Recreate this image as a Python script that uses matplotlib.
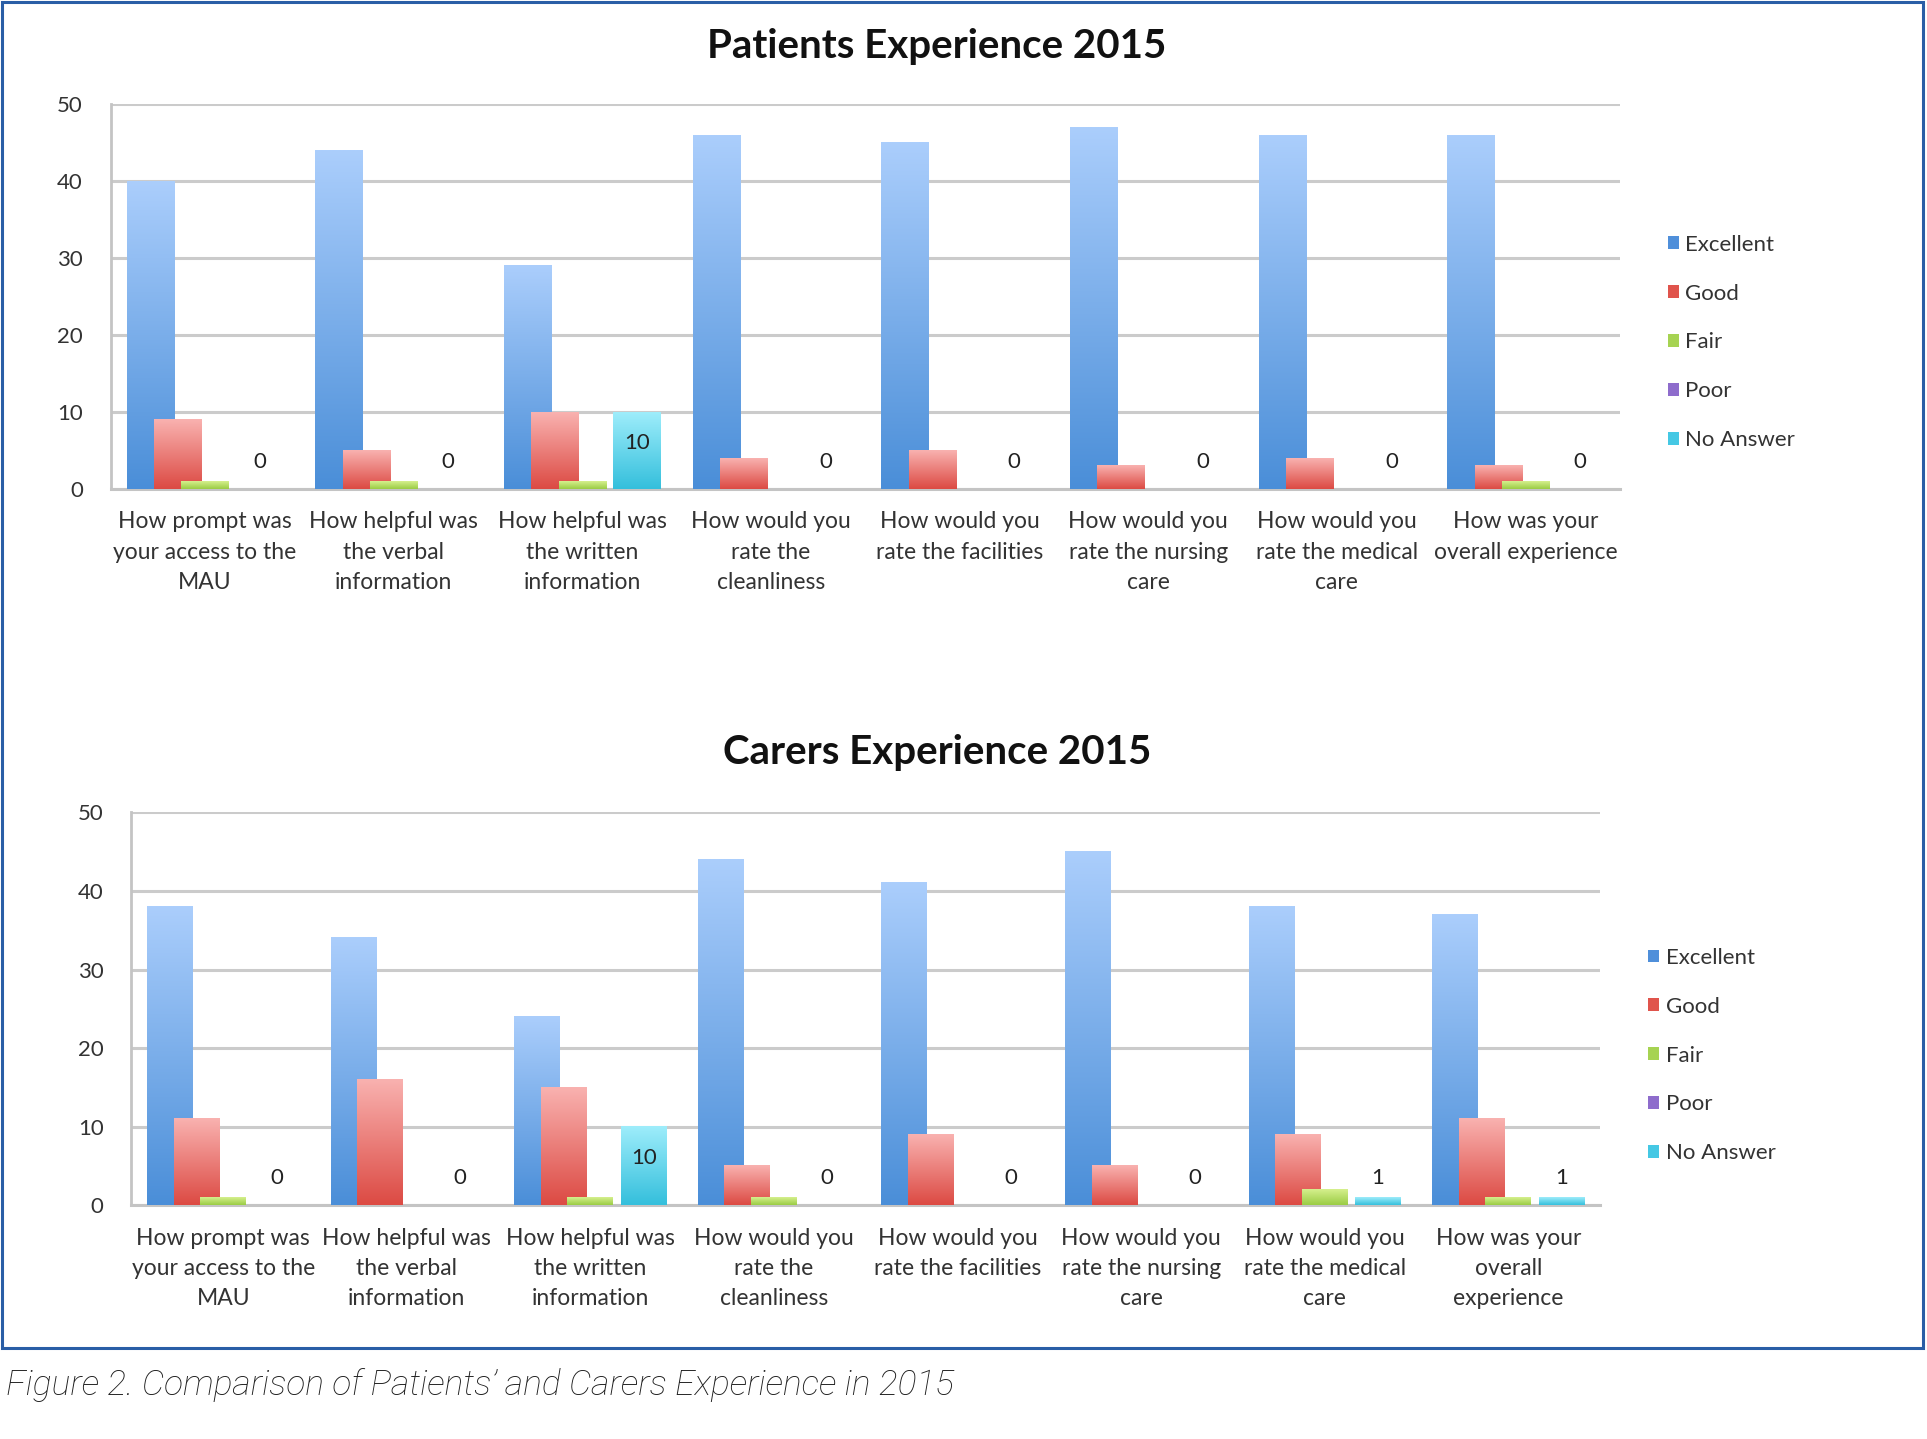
import numpy as np
import matplotlib
matplotlib.use('Agg')
import matplotlib.pyplot as plt
from matplotlib.colors import LinearSegmentedColormap
from matplotlib.patches import Patch, Rectangle

plt.rcParams['font.family'] = ['Lato', 'DejaVu Sans']

series = ['Excellent', 'Good', 'Fair', 'Poor', 'No Answer']

patient_questions = [
    'How prompt was\nyour access to the\nMAU',
    'How helpful was\nthe verbal\ninformation',
    'How helpful was\nthe written\ninformation',
    'How would you\nrate the\ncleanliness',
    'How would you\nrate the facilities',
    'How would you\nrate the nursing\ncare',
    'How would you\nrate the medical\ncare',
    'How was your\noverall experience',
]
carer_questions = patient_questions[:7] + ['How was your\noverall\nexperience']

# patients 2015
pat_excellent = [40, 44, 29, 46, 45, 47, 46, 46]
pat_good = [9, 5, 10, 4, 5, 3, 4, 3]
pat_fair = [1, 1, 1, 0, 0, 0, 0, 1]
pat_poor = [0, 0, 0, 0, 0, 0, 0, 0]
pat_noanswer = [0, 0, 10, 0, 0, 0, 0, 0]

# carers 2015
car_excellent = [38, 34, 24, 44, 41, 45, 38, 37]
car_good = [11, 16, 15, 5, 9, 5, 9, 11]
car_fair = [1, 0, 1, 1, 0, 0, 2, 1]
car_poor = [0, 0, 0, 0, 0, 0, 0, 0]
car_noanswer = [0, 0, 10, 0, 0, 0, 1, 1]

# (top colour, bottom colour) of each series gradient
grad_colors = [
    ('#abcefc', '#4a8ed8'),
    ('#f9b2b0', '#dc4a43'),
    ('#d6f08e', '#9acc44'),
    ('#b9a0ea', '#7c5bc2'),
    ('#9eedfb', '#34bfdc'),
]
legend_colors = ['#4f8fda', '#e0544c', '#a6d352', '#8e6ccc', '#45c8e4']


def gradient_bars(ax, x, values, width, top, bottom, z):
    bars = ax.bar(x, values, width, facecolor='none', edgecolor='none', zorder=z)
    cmap = LinearSegmentedColormap.from_list('g', [bottom, top])
    grad = np.linspace(0, 1, 256).reshape(-1, 1)
    for b in bars:
        h = b.get_height()
        if h <= 0:
            continue
        x0 = b.get_x()
        ax.imshow(grad, extent=(x0, x0 + b.get_width(), 0, h), origin='lower',
                  aspect='auto', cmap=cmap, zorder=z, interpolation='bilinear')
    return bars


def draw_chart(ax, questions, data):
    x = np.arange(len(questions))
    step = 0.145
    width = 0.25
    for i, vals in enumerate(data):
        top, bottom = grad_colors[i]
        gradient_bars(ax, x + (i - 2) * step, vals, width, top, bottom, 3 + i * 0.1)

    # labels on the No Answer series only
    for xi, v in zip(x + 2 * step, data[4]):
        y = v * 0.6 if v >= 5 else 3.5
        ax.text(xi, y, str(v), ha='center', va='center', fontsize=16, color='#222222', zorder=10)

    ax.set_xlim(-0.5, len(questions) - 0.5)
    ax.set_ylim(0, 50)
    ax.set_yticks(range(0, 51, 10))
    ax.set_xticks(x)
    ax.set_xticklabels(questions, fontsize=16.5, color='#333333', linespacing=1.55)
    ax.tick_params(axis='x', length=0, pad=16)
    ax.tick_params(axis='y', length=0, pad=20, labelsize=16, labelcolor='#333333')
    ax.yaxis.grid(True, color='#cbcbcb', linewidth=2.2)
    ax.set_axisbelow(True)
    for s in ['top', 'right']:
        ax.spines[s].set_visible(False)
    ax.spines['left'].set_color('#c4c4c4')
    ax.spines['left'].set_linewidth(2.0)
    ax.spines['bottom'].set_color('#c4c4c4')
    ax.spines['bottom'].set_linewidth(2.2)


fig = plt.figure(figsize=(19.27, 14.39), dpi=100)

ax1 = fig.add_axes([0.0574, 0.6601, 0.7832, 0.2673])
draw_chart(ax1, patient_questions, [pat_excellent, pat_good, pat_fair, pat_poor, pat_noanswer])
ax2 = fig.add_axes([0.0682, 0.1623, 0.7622, 0.2732])
draw_chart(ax2, carer_questions, [car_excellent, car_good, car_fair, car_poor, car_noanswer])

fig.text(0.486, 0.968, 'Patients Experience 2015', ha='center', va='center',
         fontsize=29, fontweight='bold', color='#111111')
fig.text(0.4866, 0.477, 'Carers Experience 2015', ha='center', va='center',
         fontsize=29, fontweight='bold', color='#111111')

handles = [Patch(facecolor=c, edgecolor='none') for c in legend_colors]
for anchor in [(0.855, 0.762), (0.845, 0.2665)]:
    fig.legend(handles, series, loc='center left', bbox_to_anchor=anchor,
               frameon=False, fontsize=16, handlelength=0.5, handleheight=0.5,
               handletextpad=0.3, labelspacing=1.3, labelcolor='#333333')

# blue frame round both charts
fig.patches.append(Rectangle((0.001, 0.0632), 0.997, 0.9355, transform=fig.transFigure,
                             fill=False, edgecolor='#2a5ea6', linewidth=2.2))

fig.text(0.003, 0.0376, "Figure 2. Comparison of Patients\u2019 and Carers Experience in 2015",
         ha='left', va='center', fontsize=25.5, fontstyle='italic', fontweight='light',
         color='#1e1e1e', family=['Roboto', 'DejaVu Sans'])

fig.savefig('out.png', dpi=100)
